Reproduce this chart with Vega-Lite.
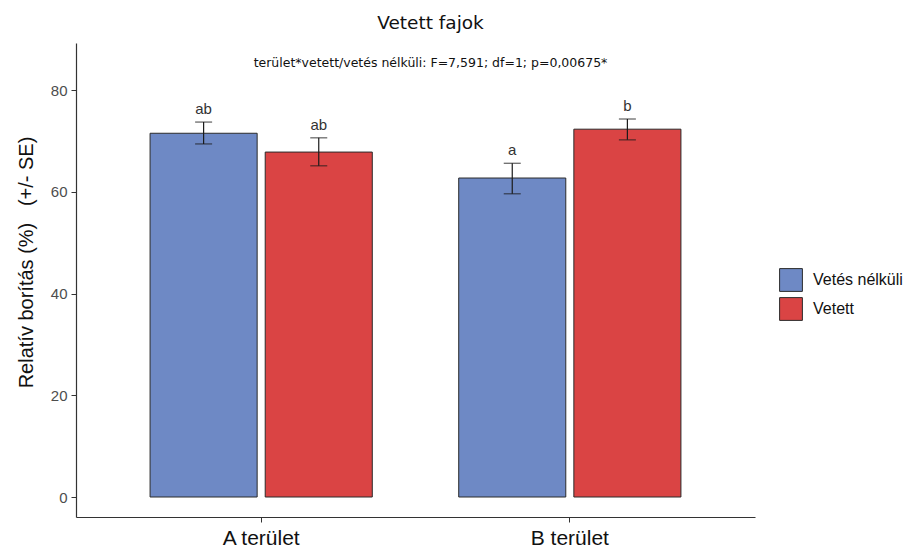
{
  "$schema": "https://vega.github.io/schema/vega-lite/v6.json",
  "width": 679,
  "height": 474,
  "autosize": {"type": "none"},
  "padding": {"left": 76, "top": 43, "right": 151, "bottom": 32},
  "background": "white",
  "title": {
    "text": "Vetett fajok",
    "subtitle": "terület*vetett/vetés nélküli: F=7,591; df=1; p=0,00675*",
    "anchor": "middle",
    "frame": "group",
    "dx": 15,
    "offset": -26,
    "font": "DejaVu Sans",
    "fontSize": 18.5,
    "fontWeight": "normal",
    "color": "#111111",
    "subtitleFont": "DejaVu Sans",
    "subtitleFontSize": 12.5,
    "subtitleColor": "#111111",
    "subtitlePadding": 24
  },
  "data": {
    "values": [
      {"terulet": "A terület", "kezeles": "Vetés nélküli", "mean": 71.5, "lo": 69.4, "hi": 73.7, "betu": "ab"},
      {"terulet": "A terület", "kezeles": "Vetett", "mean": 67.8, "lo": 65.1, "hi": 70.6, "betu": "ab"},
      {"terulet": "B terület", "kezeles": "Vetés nélküli", "mean": 62.7, "lo": 59.6, "hi": 65.6, "betu": "a"},
      {"terulet": "B terület", "kezeles": "Vetett", "mean": 72.3, "lo": 70.2, "hi": 74.3, "betu": "b"}
    ]
  },
  "encoding": {
    "x": {
      "field": "terulet",
      "type": "nominal",
      "scale": {"paddingInner": 0.28, "paddingOuter": 0.24},
      "axis": {
        "title": null,
        "labelAngle": 0,
        "labelFont": "Liberation Sans",
        "labelFontSize": 21,
        "labelColor": "#111111",
        "labelPadding": 5,
        "tickSize": 5,
        "tickColor": "#333333",
        "domainColor": "#333333",
        "grid": false
      }
    },
    "xOffset": {
      "field": "kezeles",
      "type": "nominal",
      "sort": ["Vetés nélküli", "Vetett"],
      "scale": {"paddingInner": 0.07, "paddingOuter": 0}
    }
  },
  "layer": [
    {
      "mark": {"type": "bar", "stroke": "#2b2b2b", "strokeWidth": 1},
      "encoding": {
        "y": {
          "field": "mean",
          "type": "quantitative",
          "scale": {"domain": [-3.93, 89.24], "nice": false, "zero": false},
          "axis": {
            "title": "Relatív borítás (%)\u00a0\u00a0\u00a0(+/- SE)",
            "titleFont": "Liberation Sans",
            "titleFontSize": 20,
            "titleFontWeight": "normal",
            "titleColor": "#111111",
            "titlePadding": 14,
            "titleY": 219,
            "values": [0, 20, 40, 60, 80],
            "labelFont": "Liberation Sans",
            "labelFontSize": 15,
            "labelColor": "#4d4d4d",
            "labelPadding": 4,
            "tickSize": 5,
            "tickColor": "#333333",
            "domainColor": "#333333",
            "grid": false
          }
        },
        "y2": {"datum": 0},
        "color": {
          "field": "kezeles",
          "type": "nominal",
          "scale": {"domain": ["Vetés nélküli", "Vetett"], "range": ["#6e89c5", "#da4444"]},
          "legend": {
            "title": null,
            "orient": "none",
            "legendX": 703,
            "legendY": 225,
            "symbolType": "square",
            "symbolSize": 520,
            "symbolStrokeColor": "#2b2b2b",
            "symbolStrokeWidth": 1,
            "labelFont": "Liberation Sans",
            "labelFontSize": 16,
            "labelColor": "#111111",
            "labelOffset": 10,
            "rowPadding": 1,
            "padding": 0
          }
        }
      }
    },
    {
      "mark": {"type": "rule", "color": "#1a1a1a", "strokeWidth": 1.2},
      "encoding": {
        "y": {"field": "lo", "type": "quantitative"},
        "y2": {"field": "hi"}
      }
    },
    {
      "mark": {"type": "tick", "color": "#1a1a1a", "thickness": 1.2, "size": 17, "orient": "horizontal"},
      "encoding": {"y": {"field": "lo", "type": "quantitative"}}
    },
    {
      "mark": {"type": "tick", "color": "#1a1a1a", "thickness": 1.2, "size": 17, "orient": "horizontal"},
      "encoding": {"y": {"field": "hi", "type": "quantitative"}}
    },
    {
      "mark": {"type": "text", "baseline": "alphabetic", "dy": -8, "font": "Liberation Sans", "fontSize": 15, "color": "#333333"},
      "encoding": {
        "y": {"field": "hi", "type": "quantitative"},
        "text": {"field": "betu"}
      }
    }
  ],
  "config": {
    "view": {"stroke": null},
    "axis": {"domainWidth": 1.2}
  }
}
